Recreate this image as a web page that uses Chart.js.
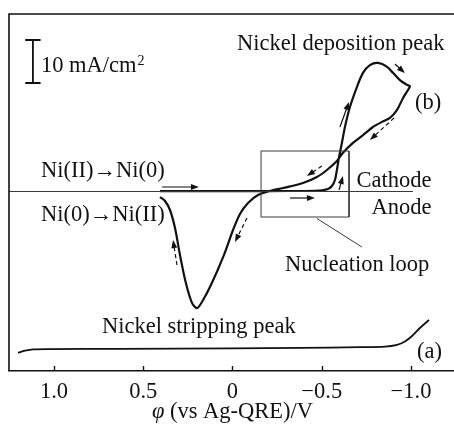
<!DOCTYPE html>
<html>
<head>
<meta charset="utf-8">
<title>Cyclic voltammograms</title>
<script src="https://cdn.jsdelivr.net/npm/chart.js@4.4.1/dist/chart.umd.min.js"></script>
<style>
  html, body { margin: 0; padding: 0; background: #fff; }
  canvas { display: block; }
</style>
</head>
<body>
<canvas id="cvChart" width="454" height="425"></canvas>
<script>
// Potential axis (V vs Ag-QRE), drawn reversed
const tickValues = [1.0, 0.5, 0, -0.5, -1.0];
const tickLabels = ['1.0', '0.5', '0', '\u22120.5', '\u22121.0'];

// Curve (b): cathodic sweep from 0.4 V out to -1.0 V (current in mA/cm2)
const sweepOutV = [0.406, 0.182, -0.098, -0.322, -0.462, -0.501, -0.535, -0.557, -0.574, -0.585, -0.597, -0.613, -0.630, -0.658, -0.697, -0.731, -0.770, -0.815, -0.866, -0.899, -0.938, -0.978, -0.994];
const sweepOutI = [0.1, 0.1, 0.1, 0.12, 0.18, 0.28, 0.58, 1.28, 2.67, 5.0, 8.0, 11.3, 15.0, 19.65, 24.3, 27.6, 29.4, 29.9, 29.0, 27.6, 25.9, 24.8, 24.5];

// ... and the return sweep back to 0.4 V through the stripping peak
const sweepBackV = [-0.983, -0.955, -0.922, -0.882, -0.838, -0.787, -0.731, -0.675, -0.619, -0.585, -0.529, -0.473, -0.395, -0.283, -0.210, -0.143, -0.087, -0.042, -0.003, 0.048, 0.120, 0.171, 0.199, 0.227, 0.261, 0.294, 0.322, 0.350, 0.378, 0.406];
const sweepBackI = [23.6, 21.7, 19.0, 17.1, 16.2, 15.0, 13.1, 11.3, 9.0, 7.1, 5.0, 3.37, 1.98, 0.81, 0.12, -0.81, -2.67, -5.23, -8.95, -14.8, -21.7, -25.7, -27.1, -25.9, -21.3, -14.8, -8.5, -4.3, -2.2, -1.28];

// Curve (a), offset below
const blankV = [1.202, 1.162, 1.118, 1.022, 0.630, 0.003, -0.378, -0.714, -0.854, -0.922, -0.966, -1.006, -1.050, -1.101];
const blankI = [-37.49, -37.02, -36.70, -36.63, -36.58, -36.47, -36.35, -36.21, -36.07, -35.65, -34.88, -33.60, -31.74, -29.88];

const pts = (vs, is) => vs.map((v, k) => ({ x: v, y: is[k] }));

// zero-current line, nucleation-loop box and its leader, 10 mA/cm2 scale bar
const zeroLine = pts([1.3, -1.011], [0, 0]);
const loopBox = pts([-0.160, -0.653, -0.653, -0.160, -0.160], [9.42, 9.42, -5.93, -5.93, 9.42]);
const loopLeader = pts([-0.473, -0.725], [-6.28, -12.9]);
const barV = 1.118, barCap = 0.043, barTop = 35.23, barLen = 10;
const scaleBar = pts(
  [barV + barCap, barV - barCap, barV, barV, barV + barCap, barV - barCap],
  [barTop, barTop, barTop, barTop - barLen, barTop - barLen, barTop - barLen]
);

const SERIF = '"Liberation Serif", "DejaVu Serif", serif';
const INK = '#111';
const FONT_SIZE = 22.5;

// sweep-direction arrows: [from V, from I, to V, to I, dashed]
const arrows = [
  [0.395, 1.05, 0.188, 1.05, false],
  [-0.322, -1.51, -0.462, -1.51, false],
  [-0.597, 0.35, -0.619, 3.6, false],
  [-0.602, 15.0, -0.653, 20.8, false],
  [-0.910, 29.65, -0.966, 27.56, false],
  [-0.905, 17.1, -0.770, 11.98, true],
  [-0.501, 5.93, -0.417, 3.6, true],
  [-0.081, -6.16, -0.014, -11.74, true],
  [0.311, -17.09, 0.333, -11.28, true]
];

const notes = [
  { text: 'Nickel deposition peak', v: -0.025, i: 32.91 },
  { text: '(b)', v: -1.022, i: 19.19 },
  { text: 'Ni(II)\u2192Ni(0)', v: 1.073, i: 3.37 },
  { text: 'Ni(0)\u2192Ni(II)', v: 1.073, i: -6.86 },
  { text: 'Cathode', v: -0.695, i: 1.05 },
  { text: 'Anode', v: -0.779, i: -5.23 },
  { text: 'Nucleation loop', v: -0.294, i: -18.49 },
  { text: 'Nickel stripping peak', v: 0.731, i: -32.91 },
  { text: '(a)', v: -1.034, i: -38.72 },
  { text: '10 mA/cm', v: 1.073, i: 27.79, sup: '2' }
];

function drawArrow(ctx, a, b, dashed) {
  const ang = Math.atan2(b[1] - a[1], b[0] - a[0]);
  const head = 8, half = 3;
  const c = Math.cos(ang), s = Math.sin(ang);
  ctx.save();
  ctx.lineWidth = 1.2;
  ctx.setLineDash(dashed ? [4, 3] : []);
  ctx.beginPath();
  ctx.moveTo(a[0], a[1]);
  ctx.lineTo(b[0] - head * 0.7 * c, b[1] - head * 0.7 * s);
  ctx.stroke();
  ctx.setLineDash([]);
  ctx.beginPath();
  ctx.moveTo(b[0], b[1]);
  ctx.lineTo(b[0] - head * c + half * s, b[1] - head * s - half * c);
  ctx.lineTo(b[0] - head * c - half * s, b[1] - head * s + half * c);
  ctx.closePath();
  ctx.fill();
  ctx.restore();
}

const annotations = {
  id: 'annotations',
  afterDatasetsDraw(chart) {
    const { ctx, chartArea: area, scales: { x, y } } = chart;
    const at = (v, i) => [x.getPixelForValue(v), y.getPixelForValue(i)];
    ctx.save();
    ctx.strokeStyle = INK;
    ctx.fillStyle = INK;

    // frame: left and top edges (bottom is the x axis border)
    ctx.lineWidth = 1.6;
    ctx.beginPath();
    ctx.moveTo(area.left, area.bottom);
    ctx.lineTo(area.left, area.top);
    ctx.lineTo(area.right, area.top);
    ctx.stroke();

    // inward tick marks
    ctx.lineWidth = 1.4;
    tickValues.forEach(v => {
      const px = Math.round(x.getPixelForValue(v)) + 0.5;
      ctx.beginPath();
      ctx.moveTo(px, area.bottom);
      ctx.lineTo(px, area.bottom - 5);
      ctx.stroke();
    });

    arrows.forEach(([v0, i0, v1, i1, dashed]) => drawArrow(ctx, at(v0, i0), at(v1, i1), dashed));

    ctx.textBaseline = 'alphabetic';
    ctx.textAlign = 'left';
    notes.forEach(n => {
      const [px, py] = at(n.v, n.i);
      ctx.font = FONT_SIZE + 'px ' + SERIF;
      ctx.fillText(n.text, px, py);
      if (n.sup) {
        const w = ctx.measureText(n.text).width;
        ctx.font = '14px ' + SERIF;
        ctx.fillText(n.sup, px + w + 1, py - 7);
      }
    });

    // axis title with italic phi
    const phi = '\u03C6';
    const rest = ' (vs Ag-QRE)/V';
    ctx.font = 'italic ' + FONT_SIZE + 'px ' + SERIF;
    const wPhi = ctx.measureText(phi).width;
    ctx.font = FONT_SIZE + 'px ' + SERIF;
    const wRest = ctx.measureText(rest).width;
    const [cx, ty] = at(0, -52.6);
    const x0 = cx - (wPhi + wRest) / 2;
    ctx.font = 'italic ' + FONT_SIZE + 'px ' + SERIF;
    ctx.fillText(phi, x0, ty);
    ctx.font = FONT_SIZE + 'px ' + SERIF;
    ctx.fillText(rest, x0 + wPhi, ty);
    ctx.restore();
  }
};

const line = (data, width, color, tension) => ({
  data, showLine: true, pointRadius: 0, borderWidth: width,
  borderColor: color, backgroundColor: color, tension, fill: false
});

const cvChart = new Chart(document.getElementById('cvChart').getContext('2d'), {
  type: 'scatter',
  data: {
    datasets: [
      line(zeroLine, 1, '#3a3a3a', 0),
      line(loopBox, 1, '#3a3a3a', 0),
      line(loopLeader, 1, '#3a3a3a', 0),
      line(scaleBar, 1.8, INK, 0),
      line(pts(blankV, blankI), 1.8, INK, 0.3),
      line(pts(sweepOutV.concat(sweepBackV), sweepOutI.concat(sweepBackI)), 2.2, INK, 0.3)
    ]
  },
  options: {
    responsive: false,
    animation: false,
    events: [],
    layout: { padding: { top: 14, left: 9, right: 0, bottom: 0 } },
    plugins: {
      legend: { display: false },
      tooltip: { enabled: false }
    },
    scales: {
      x: {
        type: 'linear',
        position: 'bottom',
        reverse: true,
        min: -1.241,
        max: 1.252,
        grid: { display: false },
        border: { display: true, color: INK, width: 1.6 },
        afterBuildTicks: axis => { axis.ticks = tickValues.map(v => ({ value: v })); },
        afterFit: axis => { axis.height = 54; },
        ticks: {
          padding: 0,
          maxRotation: 0,
          color: INK,
          font: { family: SERIF, size: FONT_SIZE },
          callback: v => tickLabels[tickValues.indexOf(v)]
        }
      },
      y: {
        type: 'linear',
        display: false,
        min: -41.74,
        max: 41.28
      }
    }
  },
  plugins: [annotations]
});
</script>
</body>
</html>
